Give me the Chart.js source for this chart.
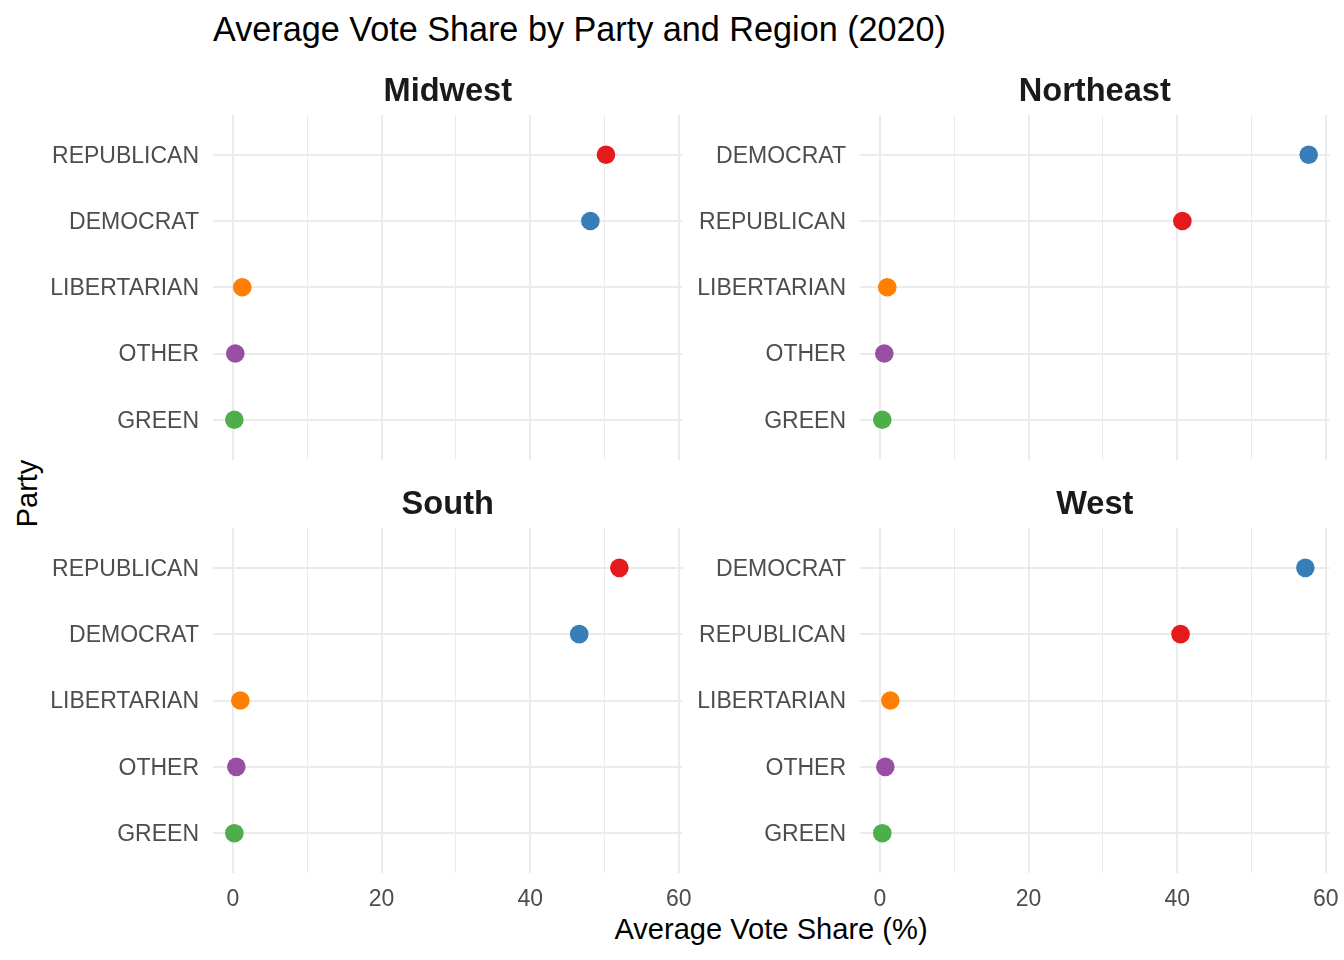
<!DOCTYPE html>
<html><head><meta charset="utf-8">
<script src="https://cdn.jsdelivr.net/npm/chart.js@4.4.1/dist/chart.umd.min.js"></script>
<style>
html,body{margin:0;padding:0;background:#fff;}
body{width:1344px;height:960px;position:relative;overflow:hidden;font-family:"Liberation Sans",Arial,sans-serif;}
canvas{position:absolute;}
.t{position:absolute;white-space:nowrap;line-height:1;color:#000;}
</style></head><body>
<div class="t" style="left:213px;top:11.5px;font-size:34.2px;">Average Vote Share by Party and Region (2020)</div>
<div class="t" style="left:471px;top:914.7px;width:600px;text-align:center;font-size:29.1px;">Average Vote Share (%)</div>
<div class="t" style="left:-73.4px;top:478.9px;width:200px;text-align:center;font-size:29px;transform:rotate(-90deg);">Party</div>
<script>
// ---- data ----
const regions = ['Midwest', 'Northeast', 'South', 'West'];
const midwestParties = ['REPUBLICAN', 'DEMOCRAT', 'LIBERTARIAN', 'OTHER', 'GREEN'];
const midwestShare = [50.2, 48.1, 1.25, 0.31, 0.18];
const northeastParties = ['DEMOCRAT', 'REPUBLICAN', 'LIBERTARIAN', 'OTHER', 'GREEN'];
const northeastShare = [57.7, 40.7, 0.98, 0.58, 0.31];
const southParties = ['REPUBLICAN', 'DEMOCRAT', 'LIBERTARIAN', 'OTHER', 'GREEN'];
const southShare = [52.0, 46.6, 0.99, 0.45, 0.18];
const westParties = ['DEMOCRAT', 'REPUBLICAN', 'LIBERTARIAN', 'OTHER', 'GREEN'];
const westShare = [57.25, 40.45, 1.39, 0.72, 0.31];
const xMajorTicks = [0, 20, 40, 60];
const xMinorTicks = [10, 30, 50];

// ---- styles ----
const partyColors = {REPUBLICAN: '#E41A1C', DEMOCRAT: '#377EB8', LIBERTARIAN: '#FF7F00', OTHER: '#984EA3', GREEN: '#4DAF4A'};
const FAMILY = '"Liberation Sans", Arial, sans-serif';

const panels = [
  {region: regions[0], parties: midwestParties, shares: midwestShare, col: 0, row: 0},
  {region: regions[1], parties: northeastParties, shares: northeastShare, col: 1, row: 0},
  {region: regions[2], parties: southParties, shares: southShare, col: 0, row: 1},
  {region: regions[3], parties: westParties, shares: westShare, col: 1, row: 1}
];

const allXTicks = xMajorTicks.concat(xMinorTicks).sort((a, b) => a - b);

panels.forEach(p => {
  const canvas = document.createElement('canvas');
  const left = p.col === 0 ? 0 : 647;
  const width = p.col === 0 ? 700 : 697;
  const top = p.row === 0 ? 55 : 468;
  const height = p.row === 0 ? 435 : 492;
  canvas.width = width; canvas.height = height;
  canvas.style.left = left + 'px'; canvas.style.top = top + 'px';
  canvas.style.width = width + 'px'; canvas.style.height = height + 'px';
  document.body.appendChild(canvas);
  const n = p.parties.length;
  new Chart(canvas, {
    type: 'scatter',
    data: {
      datasets: [{
        data: p.shares.map((v, i) => ({x: v, y: n - i})),
        backgroundColor: p.parties.map(name => partyColors[name]),
        pointRadius: 9.3, pointHoverRadius: 9.3, borderWidth: 0
      }]
    },
    options: {
      responsive: false, animation: false, events: [],
      layout: {padding: {left: 0, right: p.col === 0 ? 17.5 : 14.5, top: 0, bottom: p.row === 0 ? 0.5 : 47}},
      plugins: {
        legend: {display: false}, tooltip: {enabled: false},
        title: {display: true, text: p.region, fullSize: false, align: 'center', color: '#1A1A1A',
                font: {family: FAMILY, size: 32.6, weight: 'bold', lineHeight: 1.2},
                padding: {top: 17.6, bottom: 3.3}}
      },
      scales: {
        x: {
          type: 'linear', min: -2.69, max: 60.5,
          afterBuildTicks: s => { s.ticks = allXTicks.map(v => ({value: v})); },
          afterFit: s => { s.height = p.row === 1 ? 40 : 30; },
          ticks: {display: p.row === 1, autoSkip: false, maxRotation: 0, padding: 0,
                  color: '#4D4D4D', font: {family: FAMILY, size: 23},
                  callback: v => xMajorTicks.includes(v) ? String(v) : ''},
          grid: {color: '#EBEBEB', drawTicks: true, tickLength: 12.6, tickColor: 'rgba(0,0,0,0)',
                 lineWidth: c => xMajorTicks.includes(c.tick.value) ? 2 : 1},
          border: {display: false}
        },
        y: {
          type: 'linear', min: 0.4, max: 5.6,
          afterBuildTicks: s => { s.ticks = p.parties.map((_, i) => ({value: n - i})); },
          afterFit: s => { s.width = 213; },
          ticks: {autoSkip: false, padding: 14, labelOffset: 1.5, color: '#4D4D4D', font: {family: FAMILY, size: 23},
                  callback: v => p.parties[n - v]},
          grid: {color: '#EBEBEB', drawTicks: false, lineWidth: 2},
          border: {display: false}
        }
      }
    }
  });
});
</script>
</body></html>
